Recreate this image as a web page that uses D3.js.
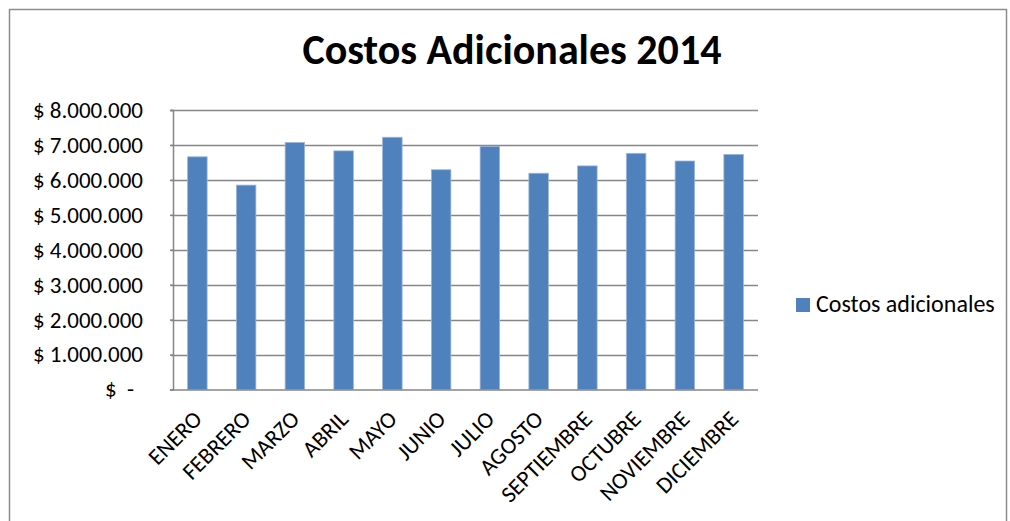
<!DOCTYPE html>
<html>
<head>
<meta charset="utf-8">
<script src="https://cdn.jsdelivr.net/npm/d3@7"></script>
<style>
  html, body { margin: 0; padding: 0; background: #fff; }
  svg { display: block; font-family: Carlito, Calibri, Lato, "Open Sans", sans-serif; }
</style>
</head>
<body>
<svg id="chart" width="1010" height="521"></svg>
<script>
// Monthly additional costs, 2014 (pesos)
const months = ["ENERO", "FEBRERO", "MARZO", "ABRIL", "MAYO", "JUNIO",
                "JULIO", "AGOSTO", "SEPTIEMBRE", "OCTUBRE", "NOVIEMBRE", "DICIEMBRE"];
const costs = [6660000, 5850000, 7070000, 6830000, 7220000, 6290000,
               6960000, 6190000, 6400000, 6760000, 6540000, 6730000];
const yTicks = [0, 1000000, 2000000, 3000000, 4000000, 5000000, 6000000, 7000000, 8000000];
const seriesName = "Costos adicionales";
const title = "Costos Adicionales 2014";

const fontStack = "Carlito, Calibri, Lato, sans-serif";
const svg = d3.select("#chart");
const gridColor = "#868686";
const barColor = "#4F81BD";

// Outer chart frame
svg.append("path")
  .attr("d", "M9.5,530 V9.5 H1006.5 V530")
  .attr("fill", "none")
  .attr("stroke", "#8c8c8c")
  .attr("stroke-width", 1.5);

const plot = { left: 173, right: 758, top: 110, bottom: 389.5 };

const x = d3.scaleBand()
  .domain(months)
  .range([plot.left, plot.right])
  .paddingInner(0.6)
  .paddingOuter(0.3);

const y = d3.scaleLinear()
  .domain([0, 8000000])
  .range([plot.bottom, plot.top]);

const locale = d3.formatLocale({ decimal: ",", thousands: ".", grouping: [3], currency: ["$", ""] });
const fmt = locale.format(",d");

// Horizontal gridlines
svg.append("g")
  .selectAll("line")
  .data(yTicks.filter(d => d > 0))
  .join("line")
  .attr("x1", plot.left - 2)
  .attr("x2", plot.right)
  .attr("y1", d => Math.round(y(d)) + 0.5)
  .attr("y2", d => Math.round(y(d)) + 0.5)
  .attr("stroke", gridColor)
  .attr("stroke-width", 1.5);

// Y axis (accounting style labels: zero shown as "$ -")
const yAxis = svg.append("g")
  .attr("transform", `translate(${plot.left},0)`)
  .call(d3.axisLeft(y).tickValues(yTicks).tickSize(3)
    .tickFormat(d => d === 0 ? "" : "$ " + fmt(d)));
yAxis.select(".domain").attr("stroke", gridColor).attr("stroke-width", 1.5);
yAxis.selectAll(".tick line").attr("stroke", gridColor).attr("stroke-width", 1.5);
yAxis.selectAll(".tick text")
  .attr("x", -30)
  .attr("fill", "#000")
  .style("font-size", "23px")
  .style("font-family", fontStack);
const zeroTick = yAxis.selectAll(".tick").filter(d => d === 0).select("text");
zeroTick.attr("text-anchor", "start");
zeroTick.append("tspan").attr("x", -68).text("$");
zeroTick.append("tspan").attr("x", -46).text("-");

// Bars
svg.append("g")
  .selectAll("rect")
  .data(costs)
  .join("rect")
  .attr("x", (d, i) => x(months[i]))
  .attr("width", x.bandwidth())
  .attr("y", d => y(d))
  .attr("height", d => y(0) - y(d))
  .attr("fill", barColor)
  .attr("stroke", "#9db6d9")
  .attr("stroke-width", 0.8);

// X axis with rotated month names
const xAxis = svg.append("g")
  .attr("transform", `translate(0,${plot.bottom})`)
  .call(d3.axisBottom(x).tickSize(0).tickSizeOuter(0));
xAxis.select(".domain").attr("stroke", gridColor).attr("stroke-width", 1.5)
  .attr("d", `M${plot.left},0.5H${plot.right}`);
xAxis.selectAll(".tick text")
  .attr("fill", "#000")
  .style("font-size", "23px")
  .style("font-family", fontStack)
  .attr("text-anchor", "end")
  .attr("dy", "0")
  .attr("y", 0)
  .attr("transform", "translate(6,31) rotate(-45)");

// Title
svg.append("text")
  .attr("x", 512)
  .attr("y", 64)
  .attr("text-anchor", "middle")
  .style("font-size", "42px")
  .style("font-weight", "bold")
  .style("font-family", fontStack)
  .text(title);

// Legend
const legend = svg.append("g").attr("transform", "translate(796,298)");
legend.append("rect")
  .attr("width", 14)
  .attr("height", 14)
  .attr("fill", barColor);
legend.append("text")
  .attr("x", 20)
  .attr("y", 14)
  .style("font-size", "24px")
  .style("font-family", fontStack)
  .text(seriesName);
</script>
</body>
</html>
